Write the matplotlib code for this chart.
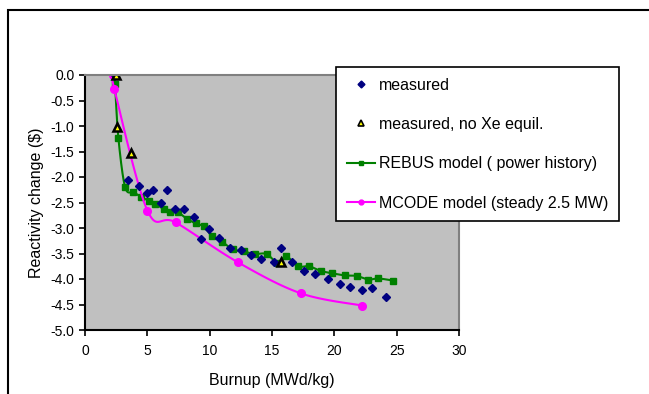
import numpy as np
import matplotlib.pyplot as plt
from matplotlib.patches import Rectangle

plt.rcParams['font.family'] = ['Liberation Sans', 'DejaVu Sans']

# measured (diamonds)
meas_x = [2.41, 3.43, 4.34, 4.96, 5.45, 6.11, 6.6, 7.24, 7.94, 8.71, 9.33, 9.92,
          10.76, 11.67, 12.55, 13.33, 14.14, 15.18, 15.69, 16.57, 17.56, 18.42,
          19.49, 20.43, 21.24, 22.2, 23.0, 24.16]
meas_y = [0.0, -2.06, -2.17, -2.31, -2.25, -2.50, -2.26, -2.63, -2.63, -2.79, -3.22, -3.02,
          -3.20, -3.40, -3.43, -3.52, -3.60, -3.67, -3.40, -3.66, -3.84, -3.90,
          -4.00, -4.10, -4.15, -4.22, -4.18, -4.35]

# measured, no Xe equilibrium (triangles)
noxe_x = [2.47, 2.6, 3.72, 15.69]
noxe_y = [0.0, -1.01, -1.52, -3.66]

# REBUS model (power history)
rebus_x = [2.35, 2.41, 2.68, 3.22, 3.89, 4.51, 5.17, 5.63, 6.30, 6.78, 7.43, 8.17, 8.89,
           9.52, 10.19, 11.0, 11.85, 12.74, 13.6, 14.56, 15.47, 16.11, 17.08, 17.96,
           18.9, 19.85, 20.86, 21.78, 22.74, 23.52, 24.72]
rebus_y = [0.0, -0.18, -1.24, -2.20, -2.30, -2.39, -2.47, -2.52, -2.63, -2.69, -2.69, -2.82, -2.91,
           -2.97, -3.16, -3.27, -3.42, -3.46, -3.51, -3.51, -3.69, -3.55, -3.75, -3.75,
           -3.84, -3.89, -3.93, -3.94, -4.01, -3.99, -4.03]

# MCODE model (steady 2.5 MW)
mcode_x = [2.28, 2.36, 5.01, 7.27, 12.25, 17.3, 22.2]
mcode_y = [0.0, -0.28, -2.66, -2.89, -3.67, -4.28, -4.52]


def smooth(x, y, n=20):
    # Catmull-Rom curve like the spreadsheet "smoothed line"
    x = np.asarray(x, float)
    y = np.asarray(y, float)
    px = np.concatenate([[x[0]], x, [x[-1]]])
    py = np.concatenate([[y[0]], y, [y[-1]]])
    xs, ys = [], []
    t = np.linspace(0, 1, n, endpoint=False)
    for i in range(1, len(px) - 2):
        for p, out in ((px, xs), (py, ys)):
            p0, p1, p2, p3 = p[i - 1], p[i], p[i + 1], p[i + 2]
            c1 = p1 + (p2 - p0) / 6.0
            c2 = p2 - (p3 - p1) / 6.0
            out.extend((1 - t) ** 3 * p1 + 3 * (1 - t) ** 2 * t * c1
                       + 3 * (1 - t) * t ** 2 * c2 + t ** 3 * p2)
    xs.append(x[-1])
    ys.append(y[-1])
    return xs, ys


fig = plt.figure(figsize=(6.49, 3.94), dpi=100)
fig.patches.append(Rectangle((8 / 649, -0.1), 1.2, 1 - 10 / 394 + 0.1,
                             transform=fig.transFigure, fill=False,
                             edgecolor='black', lw=1.5))

ax = fig.add_axes([85 / 649, 1 - 330 / 394, (459 - 85) / 649, (330 - 75) / 394])
ax.set_facecolor('#c0c0c0')

sx, sy = smooth(rebus_x, rebus_y)
ax.plot(sx, sy, color='#008000', lw=1.5)
ax.plot(rebus_x, rebus_y, ls='none', marker='s', ms=5, color='#008000')
sx, sy = smooth(mcode_x, mcode_y)
ax.plot(sx, sy, color='#ff00ff', lw=1.5)
ax.plot(mcode_x, mcode_y, ls='none', marker='o', ms=5.5, color='#ff00ff')
ax.plot(meas_x, meas_y, ls='none', marker='D', ms=4.5, color='#000080')
ax.plot(noxe_x, noxe_y, ls='none', marker='^', ms=5.5, mfc='#ffff00',
        mec='black', mew=1.8)

# legend proxies
h1, = ax.plot([], [], ls='none', marker='D', ms=3.5, color='#000080')
h2, = ax.plot([], [], ls='none', marker='^', ms=4.5, mfc='#ffff00', mec='black', mew=1.2)
h3, = ax.plot([], [], color='#008000', marker='s', ms=3.5, lw=1.5)
h4, = ax.plot([], [], color='#ff00ff', marker='o', ms=3.5, lw=1.5)
leg = fig.legend([h1, h2, h3, h4],
                 ['measured', 'measured, no Xe equil.', 'REBUS model ( power history)',
                  'MCODE model (steady 2.5 MW)'],
                 loc='upper left', bbox_to_anchor=(336 / 649, 1 - 67 / 394),
                 fontsize=11.5, frameon=True, fancybox=False, framealpha=1,
                 edgecolor='black', labelspacing=1.53, handlelength=1.8,
                 handletextpad=0.25, borderpad=0.66, borderaxespad=0)
leg.get_frame().set_linewidth(1.2)

ax.set_xlim(0, 30)
ax.set_ylim(-5, 0)
ax.set_xticks(np.arange(0, 31, 5))
ax.set_yticks(np.arange(-5, 0.01, 0.5))
ax.set_yticklabels(['%.1f' % v for v in np.arange(-5, 0.01, 0.5)])
ax.tick_params(labelsize=10, direction='out', length=4, width=1.2, colors='black')
ax.tick_params(axis='x', pad=6)
for s in ['left', 'bottom']:
    ax.spines[s].set_linewidth(1.5)
for s in ['right', 'top']:
    ax.spines[s].set_color('#808080')
    ax.spines[s].set_linewidth(1.5)

ax.set_xlabel('Burnup (MWd/kg)', fontsize=11.5, labelpad=11)
ax.set_ylabel('Reactivity change ($)', fontsize=11.5, labelpad=5)

fig.savefig('out.png', dpi=100)
